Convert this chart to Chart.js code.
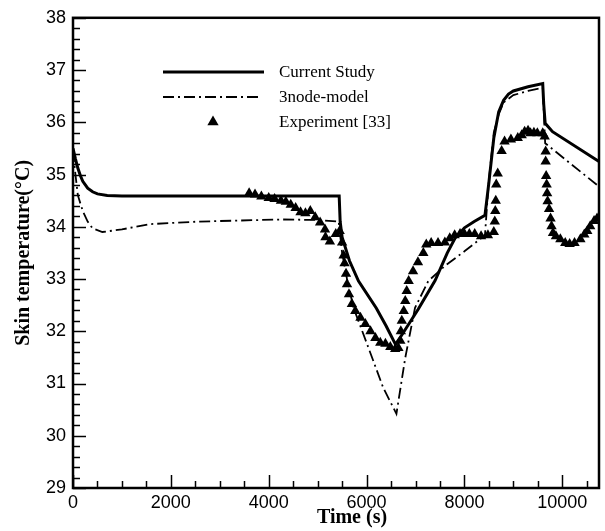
<!DOCTYPE html>
<html>
<head>
<meta charset="utf-8">
<script src="https://cdn.jsdelivr.net/npm/chart.js@4"></script>
<style>
  html, body { margin: 0; padding: 0; background: #fff; }
  #wrap { width: 605px; height: 531px; }
</style>
</head>
<body>
<div id="wrap"><canvas id="chart" width="605" height="531"></canvas></div>
<script>
// current study (solid)
var curTime = [0, 50, 100, 150, 200, 300, 400, 500, 700, 1000, 5440, 5460, 5500, 5650, 5835, 6200, 6400, 6590, 6700, 7055, 7400, 7650, 7807, 8000, 8200, 8420, 8500, 8600, 8700, 8800, 8900, 9000, 9300, 9600, 9620, 9650, 9800, 10750];
var curTemp = [35.5, 35.3, 35.12, 34.98, 34.87, 34.74, 34.67, 34.63, 34.6, 34.59, 34.59, 34.1, 33.8, 33.35, 32.96, 32.44, 32.1, 31.75, 31.9, 32.42, 32.97, 33.5, 33.78, 33.98, 34.1, 34.22, 34.85, 35.7, 36.2, 36.42, 36.54, 36.6, 36.68, 36.74, 36.35, 35.98, 35.82, 35.25];

// 3node model (dash-dot)
var nodeTime = [0, 50, 100, 200, 300, 400, 600, 1000, 1565, 2580, 4270, 5000, 5430, 5500, 5600, 5733, 6040, 6340, 6610, 6790, 6990, 7260, 7600, 8000, 8340, 8420, 8500, 8600, 8700, 8800, 9000, 9300, 9600, 9650, 10750];
var nodeTemp = [35.45, 35.0, 34.6, 34.3, 34.1, 33.97, 33.9, 33.95, 34.05, 34.1, 34.14, 34.13, 34.1, 33.5, 33.0, 32.45, 31.68, 30.92, 30.42, 31.49, 32.45, 32.96, 33.25, 33.53, 33.78, 33.85, 34.9, 35.8, 36.15, 36.38, 36.52, 36.6, 36.66, 35.6, 34.77];

// experiment [33]
var expTime = [3600, 3720, 3850, 4000, 4120, 4250, 4350, 4450, 4550, 4650, 4750, 4850, 4950, 5050, 5150, 5160, 5250, 5370, 5450, 5500, 5530, 5550, 5580, 5600, 5640, 5700, 5770, 5875, 5975, 6080, 6180, 6280, 6385, 6485, 6585, 6650, 6690, 6700, 6720, 6760, 6790, 6820, 6860, 6950, 7050, 7160, 7220, 7320, 7460, 7600, 7700, 7800, 7910, 8000, 8100, 8210, 8340, 8480, 8600, 8620, 8630, 8640, 8650, 8680, 8760, 8820, 8950, 9090, 9170, 9230, 9300, 9350, 9420, 9490, 9600, 9640, 9660, 9660, 9670, 9680, 9690, 9700, 9730, 9760, 9780, 9810, 9870, 9960, 10060, 10150, 10250, 10370, 10450, 10510, 10570, 10650, 10710];
var expTemp = [34.64, 34.62, 34.58, 34.55, 34.53, 34.5, 34.48, 34.42, 34.36, 34.28, 34.26, 34.3, 34.18, 34.08, 33.95, 33.8, 33.72, 33.86, 33.92, 33.7, 33.45, 33.3, 33.1, 32.9, 32.71, 32.52, 32.39, 32.26, 32.14, 32.0, 31.87, 31.78, 31.76, 31.7, 31.66, 31.68, 31.82, 32.0, 32.2, 32.39, 32.58, 32.77, 32.96, 33.15, 33.32, 33.5, 33.66, 33.69, 33.69, 33.7, 33.78, 33.84, 33.86, 33.86, 33.86, 33.86, 33.82, 33.84, 33.9, 34.1, 34.3, 34.5, 34.81, 35.02, 35.45, 35.63, 35.67, 35.7, 35.75, 35.82, 35.84, 35.79, 35.8, 35.79, 35.79, 35.73, 35.44, 35.25, 34.97, 34.81, 34.64, 34.49, 34.34, 34.16, 34.01, 33.88, 33.82, 33.76, 33.69, 33.67, 33.69, 33.76, 33.85, 33.92, 34.01, 34.11, 34.16];

var xTicks = [0, 2000, 4000, 6000, 8000, 10000];
var yTicks = [29, 30, 31, 32, 33, 34, 35, 36, 37, 38];
var legendNames = ['Current Study', '3node-model', 'Experiment [33]'];

function pts(xs, ys) {
  return xs.map(function(x, i){ return {x: x, y: ys[i]}; });
}

var dashDot = [11, 4, 2, 4];

// frame, inward ticks, x title and legend
var decor = {
  id: 'decor',
  afterDatasetsDraw: function(chart) {
    var ctx = chart.ctx, a = chart.chartArea;
    var xs = chart.scales.x, ys = chart.scales.y;
    ctx.save();
    ctx.strokeStyle = '#000';
    ctx.lineWidth = 1.5;
    var v, p, major;
    for (v = 0; v <= 10750; v += 500) {
      p = Math.round(xs.getPixelForValue(v)) + 0.5;
      major = v % 2000 === 0;
      ctx.beginPath();
      ctx.moveTo(p, a.bottom);
      ctx.lineTo(p, a.bottom - (major ? 13 : 7));
      ctx.stroke();
    }
    for (var k = 0; k <= 45; k++) {
      v = 29 + k * 0.2;
      p = Math.round(ys.getPixelForValue(v)) + 0.5;
      major = k % 5 === 0;
      ctx.beginPath();
      ctx.moveTo(a.left, p);
      ctx.lineTo(a.left + (major ? 13 : 7), p);
      ctx.stroke();
    }
    ctx.lineWidth = 2.5;
    ctx.strokeRect(a.left, a.top, a.right - a.left, a.bottom - a.top);

    // x title
    ctx.fillStyle = '#000';
    ctx.font = 'bold 20px "Liberation Serif", "Times New Roman", serif';
    ctx.textAlign = 'center';
    ctx.textBaseline = 'middle';
    ctx.fillText('Time (s)', 352, 518);

    // legend
    ctx.lineWidth = 3;
    ctx.beginPath(); ctx.moveTo(163, 72); ctx.lineTo(264, 72); ctx.stroke();
    ctx.lineWidth = 1.8;
    ctx.setLineDash(dashDot);
    ctx.beginPath(); ctx.moveTo(163, 97); ctx.lineTo(260, 97); ctx.stroke();
    ctx.setLineDash([]);
    var r = 6.5;
    ctx.beginPath();
    ctx.moveTo(213, 122 - r);
    ctx.lineTo(213 + r * 0.866, 122 + r / 2);
    ctx.lineTo(213 - r * 0.866, 122 + r / 2);
    ctx.closePath();
    ctx.fill();
    ctx.font = '17px "Liberation Serif", "Times New Roman", serif';
    ctx.textAlign = 'left';
    ctx.fillText(legendNames[0], 279, 73);
    ctx.fillText(legendNames[1], 279, 98);
    ctx.fillText(legendNames[2], 279, 123);
    ctx.restore();
  }
};

var ctx = document.getElementById('chart');
new Chart(ctx, {
  type: 'scatter',
  data: {
    datasets: [
      {
        label: legendNames[2],
        data: pts(expTime, expTemp),
        pointStyle: 'triangle',
        pointRadius: 6,
        backgroundColor: '#000',
        borderColor: '#000',
        borderWidth: 0,
        showLine: false
      },
      {
        label: legendNames[0],
        data: pts(curTime, curTemp),
        showLine: true,
        borderColor: '#000',
        borderWidth: 3,
        pointRadius: 0,
        tension: 0
      },
      {
        label: legendNames[1],
        data: pts(nodeTime, nodeTemp),
        showLine: true,
        borderColor: '#000',
        borderWidth: 1.8,
        borderDash: dashDot,
        pointRadius: 0,
        tension: 0
      }
    ]
  },
  options: {
    responsive: false,
    animation: false,
    layout: { padding: { top: 16, right: 3, left: 0, bottom: 0 } },
    plugins: { legend: { display: false }, tooltip: { enabled: false } },
    scales: {
      x: {
        type: 'linear',
        min: 0,
        max: 10750,
        grid: { display: false, drawTicks: false },
        border: { display: false },
        afterBuildTicks: function(s) {
          s.ticks = xTicks.map(function(v){ return {value: v}; });
        },
        ticks: {
          padding: 4,
          color: '#000',
          maxRotation: 0,
          autoSkip: false,
          callback: function(v) { return String(v); },
          font: { family: '"Liberation Sans", Arial, sans-serif', size: 18 }
        },
        afterFit: function(s) { s.height = 43; }
      },
      y: {
        type: 'linear',
        min: 29,
        max: 38,
        grid: { display: false, drawTicks: false },
        border: { display: false },
        afterBuildTicks: function(s) {
          s.ticks = yTicks.map(function(v){ return {value: v}; });
        },
        ticks: {
          padding: 7,
          color: '#000',
          callback: function(v) { return String(v); },
          font: { family: '"Liberation Sans", Arial, sans-serif', size: 18 }
        },
        title: {
          display: true,
          text: 'Skin temperature(°C)',
          color: '#000',
          padding: { top: 12, bottom: 0 },
          font: { family: '"Liberation Serif", "Times New Roman", serif', size: 20, weight: 'bold' }
        },
        afterFit: function(s) { s.width = 73; }
      }
    }
  },
  plugins: [decor]
});
</script>
</body>
</html>
